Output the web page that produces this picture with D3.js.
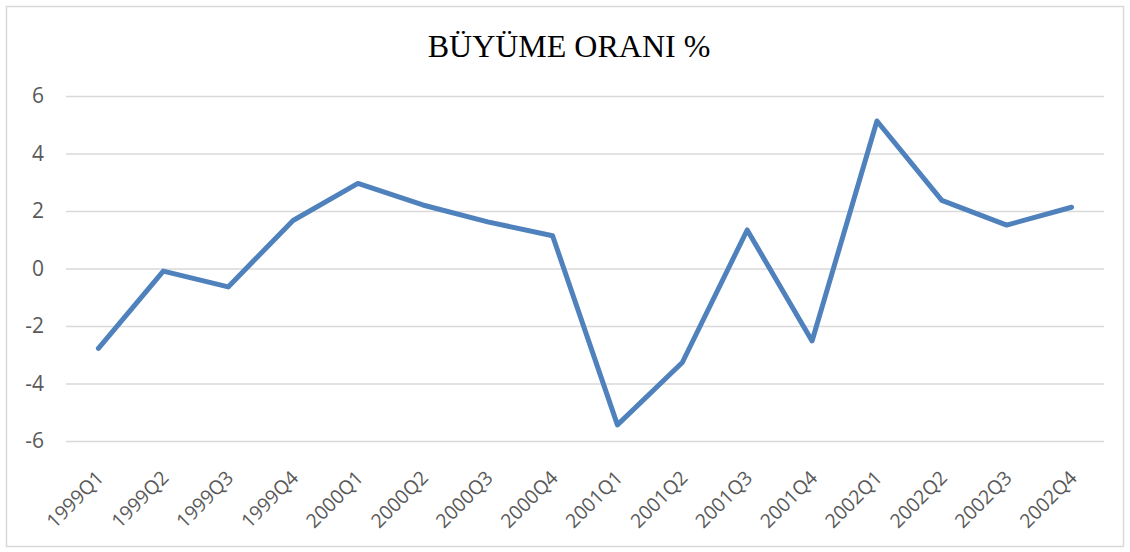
<!DOCTYPE html>
<html>
<head>
<meta charset="utf-8">
<script src="https://cdn.jsdelivr.net/npm/d3@7"></script>
<style>
    body { margin: 0; background: #fff; }
    text { font-family: "Open Sans", "Liberation Sans", sans-serif; }
</style>
</head>
<body>
<script>
var width = 1130,
    height = 552;

var quarters = ["1999Q1", "1999Q2", "1999Q3", "1999Q4", "2000Q1", "2000Q2", "2000Q3", "2000Q4",
    "2001Q1", "2001Q2", "2001Q3", "2001Q4", "2002Q1", "2002Q2", "2002Q3", "2002Q4"];
var growth = [-2.78, -0.09, -0.64, 1.67, 2.96, 2.21, 1.62, 1.14,
    -5.44, -3.27, 1.34, -2.52, 5.13, 2.37, 1.51, 2.13];
var yTicks = [-6, -4, -2, 0, 2, 4, 6];

var margin = {left: 66, right: 26, top: 96, bottom: 111};

var svg = d3.select("body").append("svg")
    .attr("width", width)
    .attr("height", height);

// chart area frame
svg.append("rect")
    .attr("x", 6.5).attr("y", 6.5)
    .attr("width", 1117).attr("height", 540)
    .attr("fill", "#fff")
    .attr("stroke", "#d9d9d9")
    .attr("stroke-width", 1.5);

var x = d3.scalePoint()
    .domain(quarters)
    .range([margin.left, width - margin.right])
    .padding(0.5);

var y = d3.scaleLinear()
    .domain([-6, 6])
    .range([height - margin.bottom, margin.top]);

// gridlines + y labels
var yAxis = svg.append("g")
    .attr("transform", "translate(" + margin.left + ",0)")
    .call(d3.axisLeft(y).tickValues(yTicks)
        .tickFormat(function (d) { return String(d); })
        .tickSize(-(width - margin.left - margin.right))
        .tickPadding(22));
yAxis.select(".domain").remove();
yAxis.selectAll("line").attr("stroke", "#d9d9d9").attr("stroke-width", 1.5);
yAxis.selectAll("text")
    .attr("fill", "#595959")
    .style("font-size", "21px");

// x labels, rotated
var xAxis = svg.append("g")
    .attr("transform", "translate(0," + (height - margin.bottom) + ")")
    .call(d3.axisBottom(x).tickSize(0).tickPadding(0));
xAxis.select(".domain").remove();
xAxis.selectAll("text")
    .attr("fill", "#595959")
    .style("font-size", "19.5px")
    .attr("text-anchor", "end")
    .attr("dy", 0)
    .attr("transform", "translate(6,38) rotate(-45)");

var line = d3.line()
    .x(function (d, i) { return x(quarters[i]); })
    .y(function (d) { return y(d); });

svg.append("path")
    .datum(growth)
    .attr("d", line)
    .attr("fill", "none")
    .attr("stroke", "#4f81bd")
    .attr("stroke-width", 5)
    .attr("stroke-linejoin", "round")
    .attr("stroke-linecap", "round");

svg.append("text")
    .attr("x", 569)
    .attr("y", 57)
    .attr("text-anchor", "middle")
    .style("font-family", "'Liberation Serif', 'Times New Roman', serif")
    .style("font-size", "32px")
    .attr("fill", "#000")
    .text("BÜYÜME ORANI %");
</script>
</body>
</html>
